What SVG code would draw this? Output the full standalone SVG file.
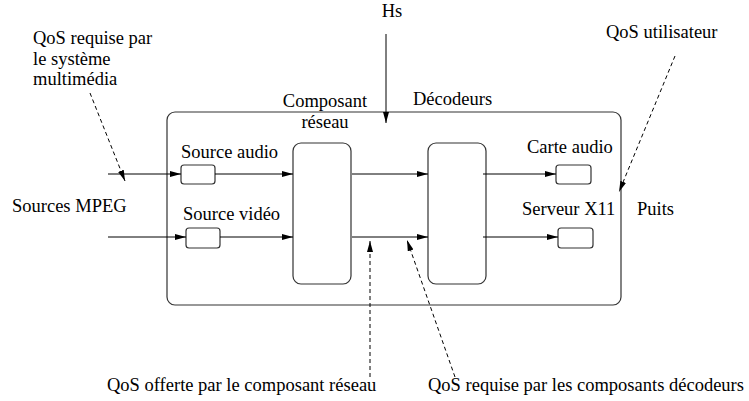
<svg xmlns="http://www.w3.org/2000/svg" width="749" height="401" viewBox="0 0 749 401">
<style>
text{font-family:"Liberation Serif","Times New Roman",serif;font-size:18.5px;fill:#000}
.box{fill:none;stroke:#333;stroke-width:1.2}
.ln{fill:none;stroke:#000;stroke-width:1}
.dash{fill:none;stroke:#000;stroke-width:1;stroke-dasharray:4,3}
</style>
<defs>
<marker id="ah" markerUnits="userSpaceOnUse" markerWidth="12" markerHeight="8" refX="11" refY="3" orient="auto">
<path d="M0,0 L11,3 L0,6 Z" fill="#000"/>
</marker>
</defs>
<rect x="0" y="0" width="749" height="401" fill="#fff"/>
<g id="container"><rect class="box" x="167" y="112" width="454" height="193" rx="8"/></g>
<g id="composant"><rect class="box" x="293" y="143" width="58" height="141" rx="8"/><text x="325" y="107" text-anchor="middle">Composant</text><text x="325" y="128" text-anchor="middle">réseau</text></g>
<g id="decodeurs"><rect class="box" x="428" y="143" width="58" height="141" rx="8"/><text x="413" y="105">Décodeurs</text></g>
<g id="source-audio"><rect class="box" x="181" y="165" width="34" height="19" rx="3"/><text x="181" y="158">Source audio</text></g>
<g id="source-video"><rect class="box" x="186" y="228" width="34" height="20" rx="3"/><text x="183" y="220">Source vidéo</text></g>
<g id="carte-audio"><rect class="box" x="556" y="165" width="35" height="19" rx="3"/><text x="527" y="153">Carte audio</text></g>
<g id="serveur-x11"><rect class="box" x="558" y="228" width="35" height="20" rx="3"/><text x="522" y="215">Serveur X11</text></g>
<g id="labels">
<text x="392" y="17" text-anchor="middle">Hs</text>
<text x="606" y="38">QoS utilisateur</text>
<text x="33" y="44">QoS requise par</text>
<text x="33" y="65">le système</text>
<text x="33" y="85">multimédia</text>
<text x="12" y="212">Sources MPEG</text>
<text x="637" y="215">Puits</text>
<text x="107" y="391">QoS offerte par le composant réseau</text>
<text x="428" y="391">QoS requise par les composants décodeurs</text>
</g>
<g id="connectors">
<line class="ln" x1="108" y1="174" x2="181" y2="174" marker-end="url(#ah)"/>
<line class="ln" x1="215" y1="174" x2="293" y2="174" marker-end="url(#ah)"/>
<line class="ln" x1="352" y1="174" x2="428" y2="174" marker-end="url(#ah)"/>
<line class="ln" x1="483" y1="174" x2="556" y2="174" marker-end="url(#ah)"/>
<line class="ln" x1="108" y1="237" x2="186" y2="237" marker-end="url(#ah)"/>
<line class="ln" x1="220" y1="237" x2="293" y2="237" marker-end="url(#ah)"/>
<line class="ln" x1="352" y1="237" x2="428" y2="237" marker-end="url(#ah)"/>
<line class="ln" x1="483" y1="237" x2="558" y2="237" marker-end="url(#ah)"/>
<line class="ln" x1="386" y1="34" x2="386" y2="123" marker-end="url(#ah)"/>
<line class="dash" x1="90" y1="93" x2="125" y2="181" marker-end="url(#ah)"/>
<line class="dash" x1="370" y1="377" x2="370" y2="241" marker-end="url(#ah)"/>
<line class="dash" x1="455" y1="377" x2="407" y2="240" marker-end="url(#ah)"/>
<line class="dash" x1="675" y1="56" x2="619" y2="192" marker-end="url(#ah)"/>
</g>
</svg>
